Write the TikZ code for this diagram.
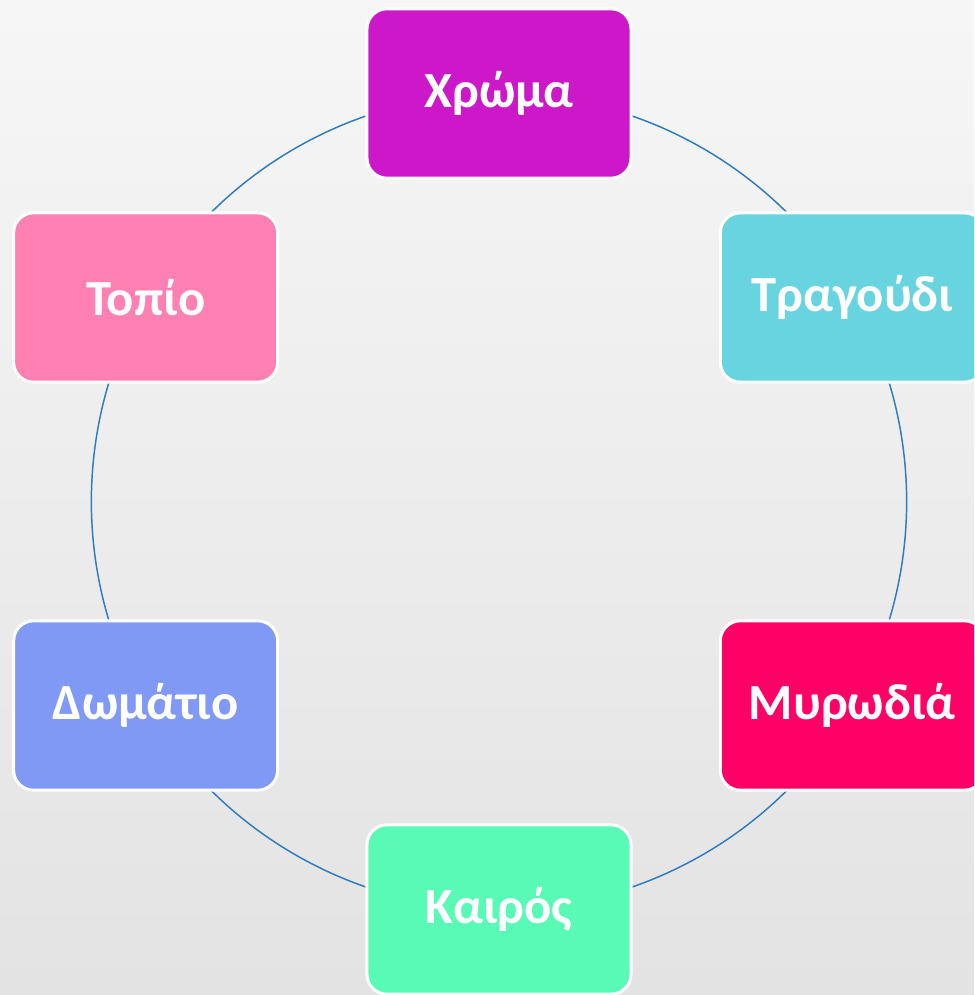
\documentclass[tikz,border=0pt]{standalone}
\usepackage{fontspec}
\setmainfont{Carlito}
\usetikzlibrary{backgrounds}
\definecolor{chromac}{HTML}{CC18C8}
\definecolor{tragoudic}{HTML}{68D4E0}
\definecolor{myrodiac}{HTML}{FF0066}
\definecolor{kairosc}{HTML}{58FAB5}
\definecolor{domatioc}{HTML}{8099F5}
\definecolor{topioc}{HTML}{FF80B3}
\definecolor{ringblue}{HTML}{2E7BBF}
\tikzset{
    cbox/.style={rectangle,rounded corners=15pt,draw=white,line width=2.25pt,minimum width=198pt,minimum height=127pt,inner sep=0pt,text=white,font=\bfseries\fontsize{38}{44}\selectfont},
    ring/.style={draw=ringblue,line width=1.1pt,bend left=30,looseness=0.91}
}

\begin{document}
\begin{tikzpicture}[x=0.75pt,y=0.75pt]
    \useasboundingbox (-499,-493.5) rectangle (475,501.5);
    \clip (-499,-493.5) rectangle (475,501.5);
    \node[cbox,fill=chromac] (chroma) at (90:408) {Χρώμα};
    \node[cbox,fill=tragoudic] (tragoudi) at (30:408) {Τραγούδι};
    \node[cbox,fill=myrodiac] (myrodia) at (-30:408) {Μυρωδιά};
    \node[cbox,fill=kairosc] (kairos) at (-90:408) {Καιρός};
    \node[cbox,fill=domatioc] (domatio) at (-150:408) {Δωμάτιο};
    \node[cbox,fill=topioc] (topio) at (150:408) {Τοπίο};
    \begin{scope}[on background layer]
        \shade[top color=gray!7,middle color=white,bottom color=gray!22] (-499,-493.5) rectangle (475,501.5);
        \draw[ring] (chroma.center) to (tragoudi.center);
        \draw[ring] (tragoudi.center) to (myrodia.center);
        \draw[ring] (myrodia.center) to (kairos.center);
        \draw[ring] (kairos.center) to (domatio.center);
        \draw[ring] (domatio.center) to (topio.center);
        \draw[ring] (topio.center) to (chroma.center);
    \end{scope}
\end{tikzpicture}
\end{document}
